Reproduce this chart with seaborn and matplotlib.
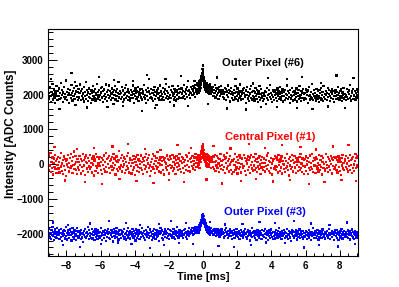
import matplotlib
matplotlib.use("Agg")
import matplotlib.pyplot as plt
from matplotlib.ticker import MultipleLocator
import numpy as np
import pandas as pd
import seaborn as sns

# Sample clock of the recorded traces (ms)
t_start = -9.06
t_step = 0.03

# Intensities, in units of 10 ADC counts
outer6 = [
    212, 189, 204, 221, 195, 178, 207, 199, 230, 186, 201, 215, 192, 176, 209, 203, 224, 197, 184, 211,
    196, 218, 187, 205, 233, 191, 200, 213, 179, 206, 194, 222, 188, 201, 241, 193, 208, 185, 217, 199,
    203, 176, 214, 198, 190, 227, 205, 183, 211, 196, 219, 188, 202, 171, 209, 224, 193, 207, 185, 216,
    192, 205, 229, 184, 210, 197, 216, 189, 203, 180, 221, 195, 208, 237, 187, 199, 214, 182, 206, 193,
    218, 190, 201, 175, 212, 204, 186, 225, 197, 209, 191, 216, 183, 204, 198, 231, 188, 207, 194, 213,
    200, 184, 219, 206, 192, 223, 178, 210, 196, 215, 187, 202, 229, 193, 208, 181, 214, 199, 190, 226,
    197, 211, 185, 203, 218, 190, 207, 172, 213, 198, 224, 186, 209, 195, 217, 182, 204, 236, 192, 201,
    210, 188, 205, 221, 194, 179, 212, 200, 186, 219, 203, 191, 227, 197, 208, 184, 215, 193, 206, 189,
    183, 214, 198, 207, 190, 226, 201, 177, 211, 195, 218, 204, 187, 209, 193, 222, 181, 206, 198, 215,
    205, 192, 217, 186, 203, 211, 194, 228, 189, 200, 213, 176, 207, 196, 220, 185, 209, 244, 191, 202,
    194, 216, 189, 205, 182, 213, 199, 223, 187, 208, 196, 171, 212, 203, 218, 190, 204, 185, 226, 197,
    209, 186, 201, 219, 193, 207, 184, 215, 202, 190, 231, 197, 211, 188, 205, 221, 192, 199, 178, 214,
    191, 208, 225, 196, 203, 186, 217, 194, 209, 183, 212, 200, 188, 224, 205, 193, 216, 207, 190, 219,
    203, 218, 192, 211, 227, 196, 208, 187, 215, 201, 222, 194, 210, 239, 199, 213, 190, 206, 221, 204,
    216, 198, 212, 225, 203, 219, 194, 228, 209, 217, 201, 232, 214, 206, 224, 211, 235, 219, 228, 241,
    252, 268, 262, 238, 221, 229, 214, 226, 207, 219, 231, 212, 224, 205, 218, 229, 210, 221, 203, 215,
    208, 223, 197, 214, 205, 228, 192, 211, 219, 199, 216, 204, 187, 221, 209, 196, 213, 225, 201, 207,
    194, 212, 203, 189, 220, 207, 216, 185, 209, 198, 226, 193, 205, 214, 180, 211, 202, 219, 191, 206,
    199, 184, 213, 205, 192, 224, 188, 207, 196, 218, 183, 203, 211, 190, 229, 197, 186, 209, 201, 215,
    187, 205, 219, 193, 200, 176, 212, 198, 221, 189, 207, 195, 182, 216, 203, 191, 224, 186, 208, 196,
    210, 192, 183, 206, 219, 197, 188, 214, 201, 178, 209, 193, 225, 185, 202, 217, 190, 204, 196, 181,
    203, 188, 211, 196, 174, 208, 220, 191, 199, 185, 213, 202, 194, 227, 187, 205, 198, 179, 212, 193,
    185, 207, 198, 214, 190, 203, 182, 218, 196, 209, 188, 201, 223, 192, 184, 206, 197, 215, 180, 208,
    196, 213, 184, 202, 191, 226, 199, 187, 210, 194, 205, 177, 214, 200, 189, 220, 195, 183, 207, 198,
    209, 186, 201, 193, 218, 180, 205, 197, 213, 188, 224, 192, 199, 182, 211, 204, 190, 216, 185, 203,
    191, 204, 215, 187, 198, 209, 176, 212, 195, 221, 186, 200, 208, 193, 231, 189, 202, 184, 214, 197,
    205, 192, 183, 216, 200, 189, 210, 197, 179, 213, 204, 190, 219, 186, 198, 207, 182, 225, 194, 201,
    188, 211, 199, 205, 185, 220, 193, 202, 214, 181, 197, 209, 190, 216, 203, 187, 211, 195, 178, 206,
    213, 196, 187, 208, 199, 222, 190, 204, 184, 210, 197, 215, 192, 181, 206, 198, 219, 189, 202, 194,
    199, 185, 216, 193, 207, 188, 212, 201, 228, 190, 196, 183, 209, 204, 187, 217, 195, 200, 211, 186,
    204, 192, 215, 198, 207,
]

central1 = [
    12, -18, 25, -4, 31, -22, 7, -11, 19, -30, 3, 16, -8, 27, -15, 9, -26, 14, -2, 21,
    -13, 6, -24, 18, -7, 33, -19, 2, 11, -28, 22, -5, 15, -16, 8, -34, 13, -1, 26, -9,
    4, -21, 17, -12, 28, -6, 10, -25, 20, -3, 36, -14, 1, 23, -18, 7, -29, 15, -10, 5,
    -17, 24, -2, 14, -27, 9, -8, 30, -20, 12, -4, 19, -31, 6, 25, -13, 3, -22, 18, -7,
    10, -15, 27, -9, 4, -24, 16, -1, 22, -33, 8, 13, -19, 29, -6, -11, 20, -26, 2, 15,
    -5, 21, -16, 7, -28, 18, 11, -3, 25, -14, -21, 6, 32, -9, 14, -23, 1, 17, -12, 24,
    8, -26, 13, -7, 20, -18, 3, 28, -11, 16, -2, -30, 9, 22, -15, 5, -20, 12, 37, -8,
    -14, 17, -4, 26, -21, 10, -9, 19, -1, -25, 14, 7, -17, 23, -6, 31, -13, 4, -24, 11,
    18, -6, -27, 12, 3, -16, 24, -10, 15, -32, 6, 20, -3, -19, 27, -8, 13, -23, 9, 1,
    -11, 25, -18, 5, 16, -29, 8, -2, 21, -14, 30, -7, 11, -22, 2, 18, -12, 26, -4, -35,
    6, -19, 14, -8, 29, -15, 1, 23, -26, 10, -5, 17, -13, 34, -9, 4, -21, 12, -1, 19,
    -24, 9, -3, 21, -16, 13, -30, 7, 18, -10, 2, 25, -17, -6, 15, -27, 11, -2, 22, -12,
    14, -7, 26, -20, 5, -13, 19, -1, -28, 11, 24, -9, 3, -18, 16, -4, 29, -15, 8, -23,
    3, 20, -11, 16, -25, 7, 12, -5, 27, -16, -2, 22, -19, 9, 31, -8, 14, -21, 5, 18,
    -6, 24, -13, 10, -1, 19, -17, 28, 4, -9, 21, 13, -4, 26, 8, -11, 23, 15, 30, 19,
    36, 48, 41, 28, 17, 25, 11, 22, 4, 18, 27, -3, 14, 20, -7, 16, 9, -12, 19, 5,
    13, -8, 22, -15, 6, 27, -19, 10, -4, 24, -11, 17, 2, -23, 14, -6, 29, -14, 8, -2,
    -18, 11, 25, -9, 16, -26, 4, 19, -13, 31, -5, 8, -21, 15, -1, 23, -16, 6, -29, 12,
    9, -22, 14, -3, 28, -17, 7, -10, 20, -27, 12, 3, -14, 25, -8, 18, -24, 1, 16, -6,
    -12, 26, -5, 17, -20, 8, -31, 13, 2, -16, 22, -9, 11, -25, 19, -2, 27, -13, 5, -19,
    21, -4, -18, 9, 30, -11, 15, -23, 6, -7, 18, -15, 24, -1, -28, 12, -10, 20, 3, -16,
    -9, 16, 4, -21, 12, -6, 25, -14, 33, -2, -19, 10, -26, 7, 17, -12, 2, -30, 14, 8,
    15, -13, 23, -5, -17, 19, -8, 11, -24, 27, -3, 6, -20, 13, -10, 22, -27, 9, 1, -15,
    -1, 18, -22, 10, -12, 29, -7, 4, -18, 15, -33, 21, -4, 8, -14, 26, -9, 12, -21, 3,
    24, -10, 7, -26, 17, -3, 13, -19, 5, -8, 20, -16, 28, -11, 2, -23, 16, -5, 11, -28,
    -7, 14, -20, 22, -1, 9, -29, 18, -12, 6, 25, -17, 3, -9, 30, -14, 10, -22, 17, -4,
    11, -25, 19, -6, 15, -13, 4, -21, 26, -2, -16, 12, -8, 23, -30, 7, 18, -11, 1, -19,
    -15, 6, 28, -12, -3, 20, -23, 14, -7, 9, -18, 24, 1, -27, 16, -5, 12, -14, 21, -10,
    19, -2, -16, 11, -24, 5, 22, -9, 13, -20, 7, -31, 17, -4, 26, -13, 3, -18, 10, 15,
    -8, 23, -14, 2, 18, -21, 9, -6, 27, -17, 12, -3, -25, 16, -11, 20, -1, -19, 8, 29,
    -12, 17, -4, 22, -9,
]

outer3 = [
    -193, -208, -187, -211, -199, -215, -190, -204, -182, -206, -196, -219, -201, -188, -210, -195, -213, -184, -203, -197,
    -205, -191, -216, -198, -186, -209, -200, -222, -194, -207, -189, -203, -214, -192, -180, -206, -198, -217, -191, -204,
    -199, -212, -188, -205, -195, -220, -202, -185, -209, -197, -214, -190, -206, -201, -218, -193, -184, -208, -196, -211,
    -207, -194, -203, -216, -189, -200, -211, -198, -225, -192, -204, -186, -210, -199, -213, -195, -207, -181, -202, -215,
    -190, -206, -198, -212, -201, -187, -214, -196, -205, -193, -219, -200, -188, -209, -197, -204, -216, -191, -208, -199,
    -211, -195, -183, -207, -200, -218, -192, -205, -196, -212, -189, -203, -198, -221, -194, -209, -187, -201, -213, -196,
    -198, -215, -203, -190, -209, -197, -223, -199, -186, -206, -213, -194, -201, -185, -210, -202, -195, -217, -191, -205,
    -203, -189, -212, -200, -194, -208, -196, -214, -187, -201, -209, -199, -217, -192, -205, -183, -211, -197, -204, -193,
    -214, -201, -195, -208, -186, -203, -211, -192, -206, -199, -220, -188, -202, -213, -196, -207, -191, -200, -216, -198,
    -195, -210, -202, -184, -207, -198, -213, -193, -201, -218, -190, -205, -197, -209, -182, -204, -212, -199, -188, -206,
    -208, -196, -219, -201, -192, -211, -187, -204, -198, -215, -203, -189, -210, -194, -206, -200, -221, -193, -202, -185,
    -199, -213, -191, -205, -217, -196, -202, -188, -209, -200, -194, -212, -198, -186, -207, -203, -215, -190, -201, -208,
    -192, -204, -211, -197, -186, -209, -200, -216, -193, -205, -199, -182, -207, -196, -212, -201, -189, -208, -195, -203,
    -206, -194, -201, -213, -190, -204, -198, -187, -210, -196, -203, -215, -192, -200, -184, -207, -195, -202, -189, -199,
    -197, -185, -204, -192, -201, -188, -196, -182, -199, -190, -186, -194, -180, -191, -183, -177, -188, -175, -172, -166,
    -158, -150, -156, -166, -173, -178, -170, -183, -176, -186, -179, -190, -184, -192, -181, -195, -188, -198, -185, -193,
    -196, -189, -203, -192, -187, -199, -194, -208, -190, -201, -186, -197, -205, -193, -210, -198, -191, -204, -188, -200,
    -202, -195, -211, -198, -190, -207, -196, -185, -204, -199, -213, -192, -201, -208, -194, -188, -206, -197, -215, -193,
    -205, -198, -190, -212, -201, -195, -208, -186, -203, -197, -210, -200, -193, -216, -199, -204, -189, -207, -196, -202,
    -211, -194, -203, -199, -187, -209, -201, -214, -195, -206, -191, -204, -198, -220, -192, -207, -200, -185, -210, -197,
    -198, -206, -192, -213, -203, -196, -218, -200, -189, -207, -195, -211, -202, -193, -205, -199, -216, -190, -204, -208,
    -193, -209, -201, -187, -212, -198, -205, -194, -219, -200, -191, -206, -197, -213, -203, -188, -209, -199, -195, -215,
    -207, -196, -214, -202, -190, -204, -199, -211, -193, -206, -185, -201, -210, -197, -203, -216, -194, -208, -200, -189,
    -201, -213, -195, -206, -198, -187, -209, -203, -215, -192, -204, -199, -211, -196, -221, -200, -190, -207, -194, -212,
    -196, -205, -208, -191, -203, -217, -199, -194, -210, -201, -188, -213, -205, -197, -202, -209, -193, -214, -198, -206,
    -210, -199, -192, -204, -215, -196, -207, -200, -189, -211, -203, -195, -218, -202, -197, -208, -185, -205, -199, -213,
    -203, -194, -212, -198, -206, -190, -201, -217, -195, -209, -200, -192, -204, -213, -197, -188, -210, -202, -207, -196,
    -214, -201, -197, -208, -193, -205, -211, -199, -186, -204, -216, -198, -202, -192, -209, -200, -195, -219, -203, -191,
    -199, -207, -190, -213, -202, -196, -218, -204, -198, -211, -193, -206, -187, -201, -214, -197, -205, -192, -210, -203,
    -206, -195, -209, -201, -191, -212, -198, -204, -217, -194, -203, -199, -208, -188, -211, -196, -200, -215, -193, -205,
    -200, -211, -195, -204, -198,
]

# Finer sampling around the pulse at t = 0 (ms), same units
pulse_start = -0.30
pulse_step = 0.015
outer6_pulse = [
    214, 226, 209, 231, 219, 238, 224, 212, 241, 229, 236, 247, 233, 252, 244,
    261, 249, 273, 258, 284, 266,
    251, 239, 246, 228, 235, 222, 240, 217, 231, 226, 212, 229, 219, 234, 208,
    224, 215, 227, 211, 220, 206, 223, 214, 201, 218, 209, 216,
]
central1_pulse = [
    -6, 15, 4, 22, 9, -2, 18, 27, 11, 24, 5, 31, 16, 36, 21,
    42, 29, 51, 34, 57, 38,
    26, 41, 19, 33, 12, 28, 6, 24, 17, -4, 21, 9, 30, 2, 15,
    -7, 19, 11, 25, -3, 14, 8, 22, -1, 16, 5, 10,
]
outer3_pulse = [
    -194, -186, -199, -181, -190, -177, -185, -172, -183, -169, -178, -164, -174, -160, -168,
    -152, -163, -147, -158, -143, -155,
    -161, -149, -166, -157, -172, -162, -176, -168, -181, -170, -185, -175, -188, -179, -192,
    -183, -195, -186, -190, -199, -184, -196, -188, -201, -191, -197, -205,
]

# Sparse stray samples outside the dense bands: times (ms) and values (10 ADC)
outer6_stray_t = [-8.9, -8.4, -7.7, -7.5, -6.8, -6.1, -5.6, -5.2, -4.7, -4.1, -3.6, -3.3,
                  -2.8, -2.2, -1.7, -1.3, -0.9, -0.5, 0.3, 0.8, 1.4, 1.9, 2.5, 2.9,
                  3.4, 3.8, 4.3, 4.9, 5.5, 5.8, 6.4, 6.9, 7.3, 7.8, 8.3, 8.8]
outer6_stray = [246, 158, 262, 237, 163, 251, 165, 243, 167, 239, 152, 256,
                161, 245, 169, 253, 168, 240, 172, 249, 160, 244, 157, 232,
                165, 248, 164, 246, 162, 251, 158, 233, 166, 255, 161, 247]
central1_stray_t = [-8.7, -8.1, -7.4, -6.9, -6.4, -5.9, -5.3, -4.9, -4.4, -3.9, -3.4, -2.9,
                    -2.5, -2.0, -1.5, -1.1, -0.7, 0.2, 0.6, 1.1, 1.6, 2.2, 2.7, 3.1,
                    3.6, 4.1, 4.6, 5.1, 5.7, 6.2, 6.6, 7.1, 7.6, 8.1, 8.5, 8.95]
central1_stray = [49, -47, 43, -52, 46, -58, 51, -42, 57, -49, 44, -54,
                  41, -46, 55, -51, 47, -44, 52, -56, 45, -48, 58, -43,
                  46, -50, 54, -45, 49, -57, 42, -52, 51, -46, 56, -49]
outer3_stray_t = [-8.8, -8.2, -7.9, -7.2, -6.6, -6.0, -5.5, -5.0, -4.5, -4.2, -3.7, -3.1,
                  -2.6, -2.3, -1.9, -1.4, -1.0, -0.6, 0.4, 0.9, 1.3, 1.8, 2.3, 2.8,
                  3.3, 3.7, 4.2, 4.8, 5.3, 5.9, 6.3, 6.8, 7.4, 7.9, 8.4, 8.9]
outer3_stray = [-168, -234, -175, -238, -171, -231, -163, -226, -169, -229, -176, -241,
                -172, -233, -164, -227, -170, -230, -167, -235, -174, -239, -173, -232,
                -166, -226, -169, -228, -164, -240, -171, -233, -175, -237, -168, -231]

pixels = ["Outer Pixel (#6)", "Central Pixel (#1)", "Outer Pixel (#3)"]
colors = ["#000000", "#ff0000", "#0000ff"]


def trace(values, times, name):
    return pd.DataFrame({"time": np.asarray(times, dtype=float),
                         "intensity": np.asarray(values, dtype=float) * 10.0,
                         "pixel": name})


def clock(start, step, n):
    return start + step * np.arange(n)


frames = []
series = zip(pixels,
             [outer6, central1, outer3],
             [outer6_pulse, central1_pulse, outer3_pulse],
             [outer6_stray, central1_stray, outer3_stray],
             [outer6_stray_t, central1_stray_t, outer3_stray_t])
for name, main, pulse, stray, stray_t in series:
    frames.append(trace(main, clock(t_start, t_step, len(main)), name))
    frames.append(trace(pulse, clock(pulse_start, pulse_step, len(pulse)), name))
    frames.append(trace(stray, stray_t, name))
df = pd.concat(frames, ignore_index=True)

sns.set_style("white")
plt.rcParams["font.family"] = ["Liberation Sans", "DejaVu Sans"]
plt.rcParams["text.color"] = "black"
plt.rcParams["axes.labelcolor"] = "black"
plt.rcParams["xtick.color"] = "black"
plt.rcParams["ytick.color"] = "black"

fig = plt.figure(figsize=(3.99, 2.87), dpi=100)
ax = fig.add_axes([0.1203, 0.1063, 0.7777, 0.7927])

sns.scatterplot(data=df, x="time", y="intensity", hue="pixel",
                palette=dict(zip(pixels, colors)), marker="s", s=2.6,
                linewidth=0, legend=False, ax=ax)

ax.set_xlim(-9.08, 9.08)
ax.set_ylim(-2660, 3890)

ax.xaxis.set_major_locator(MultipleLocator(2))
ax.xaxis.set_minor_locator(MultipleLocator(0.5))
ax.yaxis.set_major_locator(MultipleLocator(1000))
ax.yaxis.set_minor_locator(MultipleLocator(200))

ax.tick_params(which="both", bottom=True, left=True, top=False, right=False,
               direction="in", color="black", width=0.7)
ax.tick_params(axis="x", which="major", length=4, pad=3, labelsize=7)
ax.tick_params(axis="x", which="minor", length=2)
ax.tick_params(axis="y", which="major", length=6.5, pad=3, labelsize=7)
ax.tick_params(axis="y", which="minor", length=3.5)
for lab in ax.get_xticklabels() + ax.get_yticklabels():
    lab.set_fontweight("bold")

for sp in ax.spines.values():
    sp.set_linewidth(0.8)
    sp.set_color("#000000")

ax.set_xlabel("Time [ms]", fontsize=8, fontweight="bold")
ax.set_ylabel("Intensity [ADC Counts]", fontsize=8.5, fontweight="bold")
ax.xaxis.set_label_coords(0.5, -0.068)
ax.yaxis.set_label_coords(-0.1, 0.54)

label_t = [1.10, 1.27, 1.22]
label_v = [2904, 792, -1367]
for name, col, tx, vy in zip(pixels, colors, label_t, label_v):
    ax.text(tx, vy, name, color=col, fontsize=8, fontweight="bold",
            ha="left", va="center")

fig.savefig("out.png", dpi=100)
plt.close(fig)
